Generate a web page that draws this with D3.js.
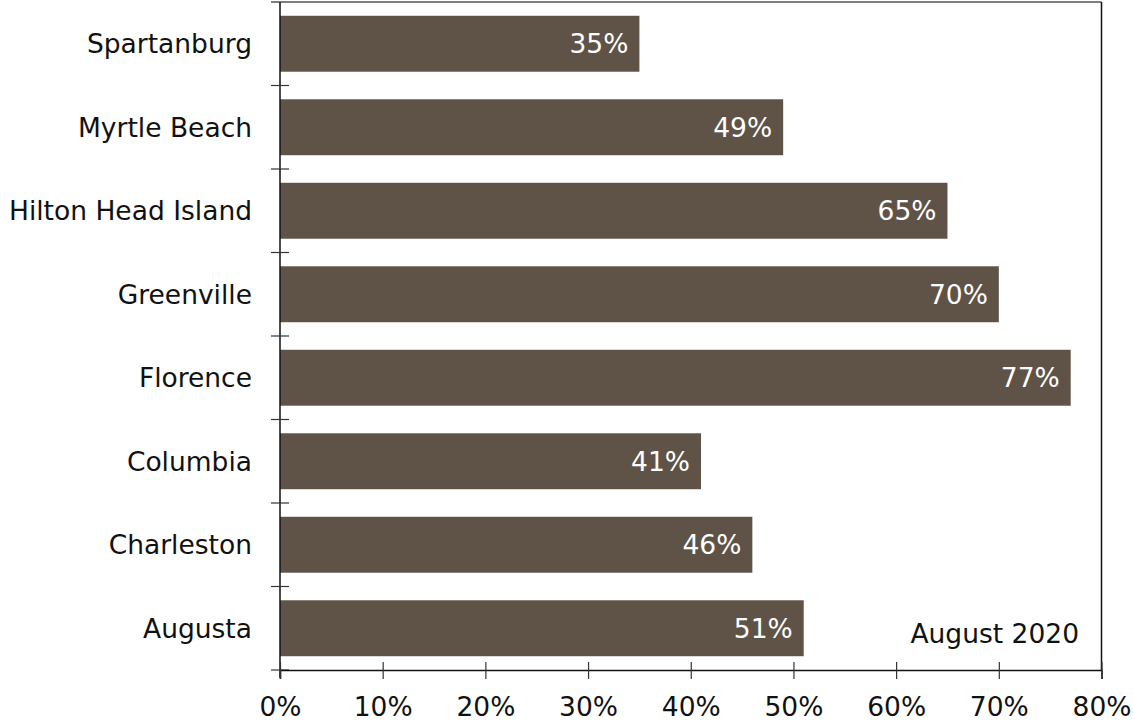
<!DOCTYPE html>
<html>
<head>
<meta charset="utf-8">
<script src="https://cdn.jsdelivr.net/npm/d3@7"></script>
<style>
  html, body { margin: 0; padding: 0; background: #fff; }
  svg { display: block; }
  text { font-family: "DejaVu Sans", Verdana, sans-serif; }
</style>
</head>
<body>
<svg id="chart" width="1134" height="724"></svg>
<script>
// Share of something per city, August 2020 (percent)
const cities = ["Spartanburg", "Myrtle Beach", "Hilton Head Island", "Greenville",
                "Florence", "Columbia", "Charleston", "Augusta"];
const values = [35, 49, 65, 70, 77, 41, 46, 51];
const xTicks = [0, 10, 20, 30, 40, 50, 60, 70, 80];
const note = "August 2020";

const svg = d3.select("#chart");
const plotLeft = 280, plotRight = 1101.5, plotTop = 2, plotBottom = 670;
const fontSize = 26.5;
const barColor = "#5f5347";

const x = d3.scaleLinear().domain([0, 80]).range([plotLeft, plotRight]);
const y = d3.scaleBand().domain(cities).range([plotTop, plotBottom])
  .paddingInner(0.33).paddingOuter(0.165);
// category boundaries for the left-side tick marks
const yEdge = d3.scaleLinear().domain([0, cities.length]).range([plotBottom, plotTop]);

// bars
svg.append("g").selectAll("rect").data(cities).join("rect")
  .attr("x", x(0))
  .attr("y", d => y(d))
  .attr("width", (d, i) => x(values[i]) - x(0))
  .attr("height", y.bandwidth())
  .attr("fill", barColor);

// value labels inside the bars
svg.append("g").selectAll("text").data(cities).join("text")
  .attr("x", (d, i) => x(values[i]) - 11)
  .attr("y", d => y(d) + y.bandwidth() / 2)
  .attr("dy", "0.36em")
  .attr("text-anchor", "end")
  .attr("fill", "#fff")
  .attr("font-size", fontSize)
  .text((d, i) => values[i] + "%");

// frame: top and right edges
svg.append("line").attr("x1", plotLeft - 9).attr("x2", plotRight).attr("y1", plotTop).attr("y2", plotTop)
  .attr("stroke", "#555").attr("stroke-width", 1.5);
svg.append("line").attr("x1", plotRight).attr("x2", plotRight).attr("y1", plotTop).attr("y2", plotBottom)
  .attr("stroke", "#111").attr("stroke-width", 1.5);

// left axis with ticks between categories
const yAxis = svg.append("g");
yAxis.append("line").attr("x1", plotLeft).attr("x2", plotLeft).attr("y1", plotTop).attr("y2", plotBottom + 8)
  .attr("stroke", "#111").attr("stroke-width", 1.5);
yAxis.selectAll("line.tick").data(d3.range(0, cities.length)).join("line")
  .attr("class", "tick")
  .attr("x1", plotLeft - 9).attr("x2", plotLeft + 9)
  .attr("y1", d => yEdge(d)).attr("y2", d => yEdge(d))
  .attr("stroke", "#333").attr("stroke-width", 1.2);
yAxis.selectAll("text").data(cities).join("text")
  .attr("x", plotLeft - 28)
  .attr("y", d => y(d) + y.bandwidth() / 2)
  .attr("dy", "0.36em")
  .attr("text-anchor", "end")
  .attr("fill", "#111")
  .attr("font-size", fontSize)
  .text(d => d);

// bottom axis, ticks crossing the line
const xAxis = svg.append("g").attr("transform", `translate(0,${plotBottom})`)
  .call(d3.axisBottom(x).tickValues(xTicks).tickFormat(d => d + "%").tickSize(9).tickPadding(18));
xAxis.select(".domain").attr("stroke", "#111").attr("stroke-width", 1.5);
xAxis.selectAll(".tick line").attr("y1", -8).attr("stroke", "#333").attr("stroke-width", 1.2);
xAxis.selectAll(".tick text")
  .attr("font-family", "DejaVu Sans, Verdana, sans-serif")
  .attr("font-size", fontSize)
  .attr("fill", "#111");

// period note
svg.append("text")
  .attr("x", 1079).attr("y", 643)
  .attr("text-anchor", "end")
  .attr("fill", "#111")
  .attr("font-size", fontSize)
  .text(note);
</script>
</body>
</html>
